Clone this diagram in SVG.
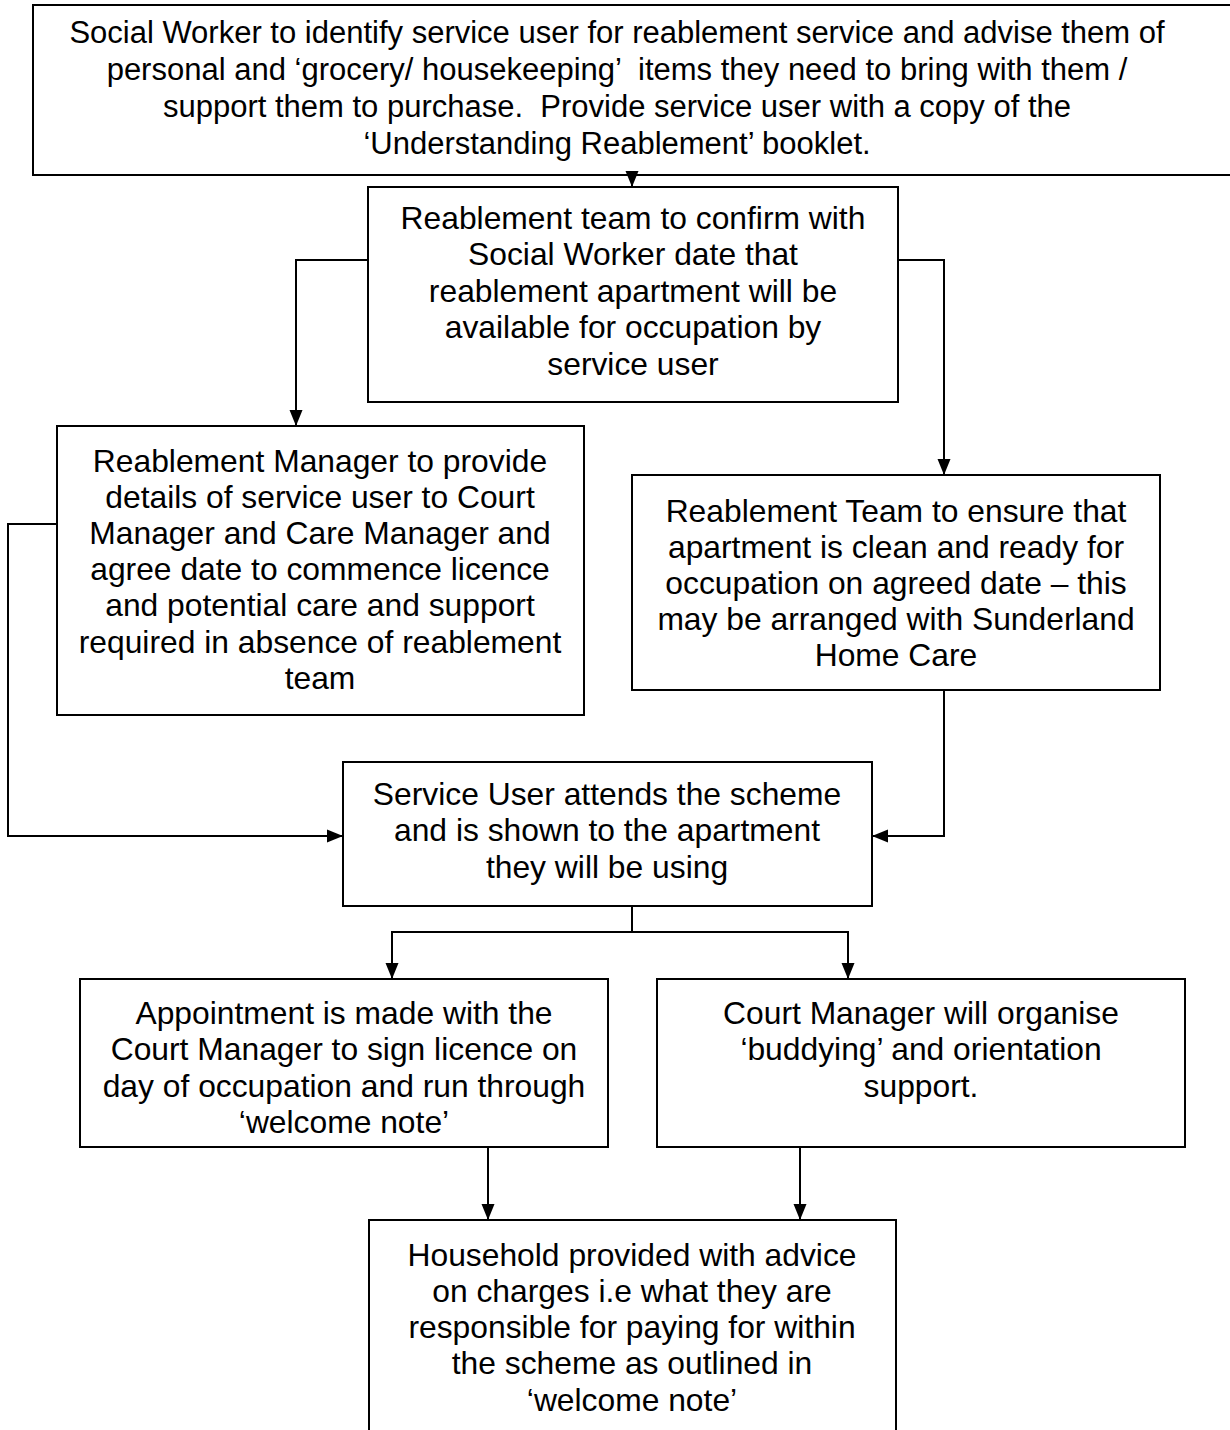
<svg xmlns="http://www.w3.org/2000/svg" width="1230" height="1430" viewBox="0 0 1230 1430">
<defs>
<marker id="arr" viewBox="0 0 16 14" refX="16" refY="7" markerWidth="16" markerHeight="14" markerUnits="userSpaceOnUse" orient="auto">
<path d="M0,0.5 L16,7 L0,13.5 Z" fill="#000"/>
</marker>
</defs>
<style>
.box{fill:#fff;stroke:#000;stroke-width:2}
.t{font-family:"Liberation Sans",Arial,sans-serif;font-size:31.8px;fill:#000;text-anchor:middle;white-space:pre}
.t1{font-size:31px}
.c{fill:none;stroke:#000;stroke-width:2}
</style>
<rect width="1230" height="1430" fill="#fff"/>
<g id="n1">
<rect class="box" x="33" y="5" width="1210" height="170"/>
<text class="t t1" y="43" xml:space="preserve"><tspan x="617">Social Worker to identify service user for reablement service and advise them of</tspan><tspan x="617" dy="37">personal and ‘grocery/ housekeeping’  items they need to bring with them /</tspan><tspan x="617" dy="37">support them to purchase.  Provide service user with a copy of the</tspan><tspan x="617" dy="37">‘Understanding Reablement’ booklet.</tspan></text>
</g>
<g id="n2">
<rect class="box" x="368" y="187" width="530" height="215"/>
<text class="t" y="228.5"><tspan x="633">Reablement team to confirm with</tspan><tspan x="633" dy="36.5">Social Worker date that</tspan><tspan x="633" dy="36.5">reablement apartment will be</tspan><tspan x="633" dy="36.5">available for occupation by</tspan><tspan x="633" dy="36.5">service user</tspan></text>
</g>
<g id="n3">
<rect class="box" x="57" y="426" width="527" height="289"/>
<text class="t" y="471.5"><tspan x="320">Reablement Manager to provide</tspan><tspan x="320" dy="36.2">details of service user to Court</tspan><tspan x="320" dy="36.2">Manager and Care Manager and</tspan><tspan x="320" dy="36.2">agree date to commence licence</tspan><tspan x="320" dy="36.2">and potential care and support</tspan><tspan x="320" dy="36.2">required in absence of reablement</tspan><tspan x="320" dy="36.2">team</tspan></text>
</g>
<g id="n4">
<rect class="box" x="632" y="475" width="528" height="215"/>
<text class="t" y="521.5"><tspan x="896">Reablement Team to ensure that</tspan><tspan x="896" dy="36.2">apartment is clean and ready for</tspan><tspan x="896" dy="36.2">occupation on agreed date – this</tspan><tspan x="896" dy="36.2">may be arranged with Sunderland</tspan><tspan x="896" dy="36.2">Home Care</tspan></text>
</g>
<g id="n5">
<rect class="box" x="343" y="762" width="529" height="144"/>
<text class="t" y="804.5"><tspan x="607">Service User attends the scheme</tspan><tspan x="607" dy="36.5">and is shown to the apartment</tspan><tspan x="607" dy="36.5">they will be using</tspan></text>
</g>
<g id="n6">
<rect class="box" x="80" y="979" width="528" height="168"/>
<text class="t" y="1023.5"><tspan x="344">Appointment is made with the</tspan><tspan x="344" dy="36.5">Court Manager to sign licence on</tspan><tspan x="344" dy="36.5">day of occupation and run through</tspan><tspan x="344" dy="36.5">‘welcome note’</tspan></text>
</g>
<g id="n7">
<rect class="box" x="657" y="979" width="528" height="168"/>
<text class="t" y="1023.5"><tspan x="921">Court Manager will organise</tspan><tspan x="921" dy="36.5">‘buddying’ and orientation</tspan><tspan x="921" dy="36.5">support.</tspan></text>
</g>
<g id="n8">
<rect class="box" x="369" y="1220" width="527" height="240"/>
<text class="t" y="1265.5"><tspan x="632">Household provided with advice</tspan><tspan x="632" dy="36.3">on charges i.e what they are</tspan><tspan x="632" dy="36.3">responsible for paying for within</tspan><tspan x="632" dy="36.3">the scheme as outlined in</tspan><tspan x="632" dy="36.3">‘welcome note’</tspan></text>
</g>
<g id="connectors">
<path class="c" d="M632,175 L632,187" marker-end="url(#arr)"/>
<path class="c" d="M368,260 L296,260 L296,426" marker-end="url(#arr)"/>
<path class="c" d="M898,260 L944,260 L944,475" marker-end="url(#arr)"/>
<path class="c" d="M57,524 L8,524 L8,836 L343,836" marker-end="url(#arr)"/>
<path class="c" d="M944,690 L944,836 L872,836" marker-end="url(#arr)"/>
<path class="c" d="M632,906 L632,932"/>
<path class="c" d="M632,932 L392,932 L392,979" marker-end="url(#arr)"/>
<path class="c" d="M632,932 L848,932 L848,979" marker-end="url(#arr)"/>
<path class="c" d="M488,1147 L488,1220" marker-end="url(#arr)"/>
<path class="c" d="M800,1147 L800,1220" marker-end="url(#arr)"/>
</g>
</svg>
